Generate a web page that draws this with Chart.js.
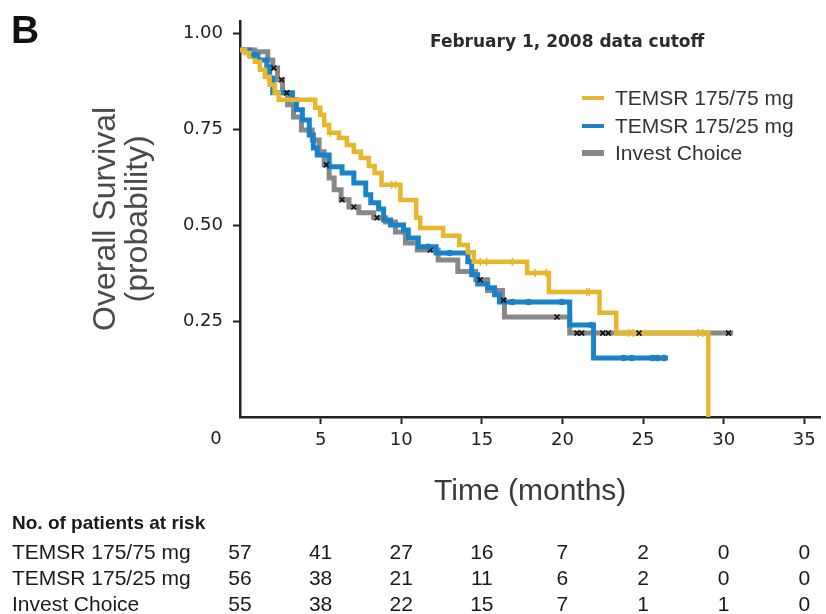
<!DOCTYPE html>
<html>
<head>
<meta charset="utf-8">
<script src="https://cdn.jsdelivr.net/npm/chart.js@4.4.0/dist/chart.umd.min.js"></script>
<style>
  html, body { margin: 0; padding: 0; background: #fff; }
  #wrap { position: relative; width: 826px; height: 614px; }
</style>
</head>
<body>
<div id="wrap"><canvas id="osChart" width="826" height="614"></canvas></div>
<script>
// Tick values
const months = [0, 5, 10, 15, 20, 25, 30, 35];
const survTicks = [0.25, 0.5, 0.75, 1.0];

// Kaplan-Meier steps: [month, survival after the step]
const arm75 = [[0,0.958],[0.31,0.950],[0.61,0.940],[0.92,0.927],[1.23,0.906],[1.54,0.888],[1.84,0.867],[2.15,0.846],[2.40,0.828],[4.67,0.807],[4.98,0.789],[5.22,0.762],[5.53,0.742],[6.14,0.728],[6.63,0.710],[7.06,0.692],[7.49,0.676],[7.99,0.655],[8.35,0.637],[8.78,0.606],[9.95,0.566],[10.93,0.520],[11.18,0.493],[12.60,0.473],[13.60,0.449],[14.13,0.430],[14.50,0.405],[17.81,0.376],[19.16,0.326],[22.30,0.272],[23.34,0.219],[29.05,0]];
const arm25 = [[0,0.958],[0.61,0.945],[1.11,0.932],[1.66,0.914],[1.84,0.885],[2.03,0.846],[3.26,0.828],[3.50,0.802],[3.87,0.775],[4.30,0.736],[4.55,0.702],[4.79,0.684],[5.53,0.653],[6.33,0.637],[7.06,0.611],[7.80,0.580],[8.11,0.559],[8.60,0.543],[8.91,0.514],[9.34,0.501],[10.14,0.488],[10.44,0.467],[11.06,0.444],[12.16,0.428],[14.13,0.405],[14.37,0.371],[14.74,0.347],[15.36,0.337],[15.79,0.319],[16.09,0.300],[20.45,0.240],[21.93,0.154],[26.54,0.154]];
const armIC = [[0,0.958],[0.92,0.953],[1.72,0.932],[2.03,0.911],[2.33,0.880],[2.64,0.846],[2.95,0.815],[3.32,0.783],[3.81,0.749],[4.48,0.723],[4.91,0.692],[5.22,0.658],[5.53,0.624],[5.84,0.593],[6.27,0.567],[6.76,0.548],[7.37,0.533],[8.29,0.520],[9.03,0.509],[9.64,0.483],[10.26,0.454],[11.00,0.436],[12.29,0.410],[13.51,0.380],[14.62,0.358],[15.36,0.330],[16.28,0.305],[16.40,0.261],[20.45,0.219],[30.59,0.219]];

// Censored observations (months)
const censor75 = [5.6, 9.4, 9.65, 14.9, 15.3, 16.9, 18.3, 19.0, 21.5, 21.65, 24.1, 24.4, 28.4, 28.7];
const censor25 = [0.9, 11.67, 13.0, 16.9, 17.9, 19.96, 21.8, 23.8, 24.3, 25.6, 25.9, 26.3];
const censorIC = [2.1, 2.58, 2.9, 5.35, 6.33, 7.06, 8.5, 11.8, 14.9, 16.35, 19.66, 20.9, 21.2, 22.5, 22.85, 24.75, 30.3];

// No. of patients at risk at each month tick
const atRisk75 = [57, 41, 27, 16, 7, 2, 0, 0];
const atRisk25 = [56, 38, 21, 11, 6, 2, 0, 0];
const atRiskIC = [55, 38, 22, 15, 7, 1, 1, 0];

const armNames = ['TEMSR 175/75 mg', 'TEMSR 175/25 mg', 'Invest Choice'];
const armColors = ['#E8B62B', '#1A82C8', '#888888'];

const SANS = '"Liberation Sans", Arial, sans-serif';
const WIDE = '"DejaVu Sans", Verdana, sans-serif';

function survAt(curve, t) {
    let s = curve[0][1];
    for (const [x, y] of curve) {
        if (x <= t) s = y; else break;
    }
    return s;
}

function kmSet(label, curve, color, width, order) {
    return {
        label: label,
        data: curve.map(([x, y]) => ({ x, y })),
        borderColor: color,
        backgroundColor: color,
        borderWidth: width,
        stepped: true,
        pointRadius: 0,
        fill: false,
        order: order
    };
}

function censorSet(times, curve, color, style, radius, rotation, order) {
    return {
        label: 'censor',
        data: times.map(t => ({ x: t, y: survAt(curve, t) })),
        showLine: false,
        pointStyle: style,
        pointRadius: radius,
        pointRotation: rotation,
        pointBorderColor: color,
        pointBackgroundColor: color,
        pointBorderWidth: 1.6,
        order: order
    };
}

// Texts that are not part of the axes: panel letter, note, legend, table
const annotations = {
    id: 'annotations',
    afterDraw(chart) {
        const { ctx, scales: { x } } = chart;
        ctx.save();

        ctx.fillStyle = '#111';
        ctx.textAlign = 'left';
        ctx.textBaseline = 'alphabetic';
        ctx.font = 'bold 39px ' + SANS;
        ctx.fillText('B', 11, 43);

        ctx.fillStyle = '#2b2b2b';
        ctx.font = 'bold 17px ' + WIDE;
        ctx.fillText('February 1, 2008 data cutoff', 430, 47);

        // legend
        const rows = [98, 126, 153];
        armNames.forEach((name, i) => {
            ctx.strokeStyle = armColors[i];
            ctx.lineWidth = i === 2 ? 6 : 4;
            ctx.beginPath();
            ctx.moveTo(582, rows[i]);
            ctx.lineTo(604, rows[i]);
            ctx.stroke();
            ctx.fillStyle = '#333';
            ctx.font = '21px ' + SANS;
            ctx.textBaseline = 'middle';
            ctx.fillText(name, 615, rows[i] + 1);
        });

        // origin label, set apart from the axis like the original
        ctx.fillStyle = '#222';
        ctx.font = '18px ' + WIDE;
        ctx.textAlign = 'center';
        ctx.textBaseline = 'top';
        ctx.fillText('0', x.getPixelForValue(0) - 24, x.top + 7 + 6);

        // patients at risk
        ctx.textAlign = 'left';
        ctx.textBaseline = 'middle';
        ctx.fillStyle = '#1a1a1a';
        ctx.font = 'bold 19px ' + SANS;
        ctx.fillText('No. of patients at risk', 12, 524);

        const tableRows = [atRisk75, atRisk25, atRiskIC];
        const rowY = [553, 579, 605];
        tableRows.forEach((vals, r) => {
            ctx.textAlign = 'left';
            ctx.font = '21px ' + SANS;
            ctx.fillText(armNames[r], 12, rowY[r]);
            ctx.textAlign = 'center';
            vals.forEach((v, i) => {
                ctx.fillText(String(v), x.getPixelForValue(months[i]), rowY[r]);
            });
        });

        ctx.restore();
    }
};

const ctx = document.getElementById('osChart').getContext('2d');
const osChart = new Chart(ctx, {
    type: 'line',
    data: {
        datasets: [
            censorSet(censor75, arm75, armColors[0], 'line', 4, 90, 0),
            censorSet(censor25, arm25, armColors[1], 'circle', 2.5, 0, 1),
            censorSet(censorIC, armIC, '#111', 'crossRot', 3.5, 0, 2),
            kmSet(armNames[0], arm75, armColors[0], 4.5, 3),
            kmSet(armNames[1], arm25, armColors[1], 5, 4),
            kmSet(armNames[2], armIC, armColors[2], 5, 5)
        ]
    },
    options: {
        responsive: false,
        animation: false,
        events: [],
        layout: { padding: { left: 86, top: 20, right: 0, bottom: 101 } },
        plugins: {
            legend: { display: false },
            tooltip: { enabled: false }
        },
        scales: {
            x: {
                type: 'linear',
                min: 0,
                max: 36,
                afterBuildTicks: s => { s.ticks = months.filter(m => m > 0).map(v => ({ value: v })); },
                afterFit: s => { s.height = 96; },
                border: { color: '#222', width: 2.5 },
                grid: { drawOnChartArea: false, tickLength: 7, tickWidth: 2, tickColor: '#222' },
                ticks: {
                    color: '#222',
                    font: { family: WIDE, size: 18 },
                    padding: 6,
                    maxRotation: 0,
                    autoSkip: false
                },
                title: {
                    display: true,
                    text: 'Time (months)',
                    color: '#3a3a3a',
                    font: { family: SANS, size: 30, lineHeight: '34px' },
                    padding: { top: 4, bottom: 4 }
                }
            },
            y: {
                min: 0,
                max: 1.034,
                afterBuildTicks: s => { s.ticks = survTicks.map(v => ({ value: v })); },
                afterFit: s => { s.width = 154; },
                border: { color: '#222', width: 2.5 },
                grid: { drawOnChartArea: false, tickLength: 7, tickWidth: 2, tickColor: '#222' },
                ticks: {
                    color: '#222',
                    font: { family: WIDE, size: 18 },
                    padding: 10,
                    callback: v => v.toFixed(2)
                },
                title: {
                    display: true,
                    text: ['Overall Survival', '(probability)'],
                    color: '#4a4a4a',
                    font: { family: SANS, size: 32, lineHeight: '32px' },
                    padding: { top: 4, bottom: 4 }
                }
            }
        }
    },
    plugins: [annotations]
});
</script>
</body>
</html>
